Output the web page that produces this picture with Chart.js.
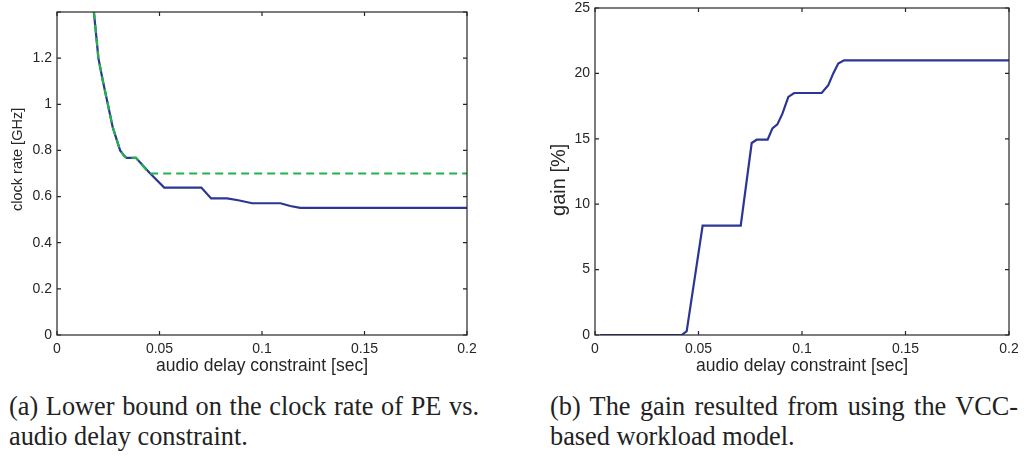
<!DOCTYPE html>
<html>
<head>
<meta charset="utf-8">
<script src="https://cdn.jsdelivr.net/npm/chart.js@4.4.1/dist/chart.umd.min.js"></script>
<style>
    body { margin: 0; width: 1026px; height: 457px; background: #fff; position: relative; overflow: hidden; }
    canvas { position: absolute; top: 0; }
    #chart-a { left: 0; }
    #chart-b { left: 520px; }
    .caption { position: absolute; top: 392px; font-family: "Liberation Serif", "Times New Roman", serif; font-size: 26.3px; line-height: 30px; color: #222; }
    .caption .first { text-align: justify; text-align-last: justify; }
    #cap-a { left: 9px; width: 470px; }
    #cap-b { left: 550px; width: 468px; }
</style>
</head>
<body>
<canvas id="chart-a" width="490" height="385"></canvas>
<canvas id="chart-b" width="506" height="385"></canvas>
<div class="caption" id="cap-a">
    <div class="first">(a) Lower bound on the clock rate of PE vs.</div>
    <div>audio delay constraint.</div>
</div>
<div class="caption" id="cap-b">
    <div class="first">(b) The gain resulted from using the VCC-</div>
    <div>based workload model.</div>
</div>
<script>
// (a) 下限クロック周波数 [GHz]
const clockX = [0.018, 0.0191, 0.0202, 0.0224, 0.0248, 0.0272, 0.0308, 0.0329, 0.034, 0.0385, 0.045, 0.0523, 0.0704, 0.0752, 0.083, 0.0884, 0.0952, 0.109, 0.1138, 0.1186, 0.2];
const clockY = [1.4, 1.3, 1.2, 1.1, 1.0, 0.9, 0.8, 0.775, 0.768, 0.768, 0.704, 0.639, 0.639, 0.592, 0.592, 0.584, 0.571, 0.571, 0.559, 0.551, 0.551];
// (a) 破線（緑）
const boundX = [0.018, 0.0191, 0.0202, 0.0224, 0.0248, 0.0272, 0.0308, 0.0329, 0.034, 0.0385, 0.045, 0.2];
const boundY = [1.4, 1.3, 1.2, 1.1, 1.0, 0.9, 0.8, 0.775, 0.768, 0.768, 0.70, 0.70];
// (b) gain [%]
const gainX = [0.0025, 0.0419, 0.0443, 0.052, 0.0704, 0.0757, 0.0781, 0.0834, 0.0857, 0.0881, 0.0905, 0.0934, 0.0962, 0.1095, 0.1127, 0.1151, 0.1175, 0.1203, 0.2];
const gainY = [0, 0, 0.3, 8.36, 8.36, 14.68, 14.93, 14.93, 15.8, 16.1, 16.9, 18.2, 18.5, 18.5, 19.1, 20.0, 20.76, 21.0, 21.0];

const BLUE = '#2b3694';
const GREEN = '#22b14c';
const INK = '#262626';

function toPoints(xs, ys) {
    return xs.map((x, i) => ({ x: x, y: ys[i] }));
}

// 目盛りラベル分の自動余白を消して、layout.paddingで位置を決める
function noAutoPadding(s) {
    s.paddingTop = 0;
    s.paddingBottom = 0;
    s.paddingLeft = 0;
    s.paddingRight = 0;
}

// MATLAB風の枠と内向きの目盛り
const framePlugin = {
    id: 'frame',
    afterDraw(chart) {
        const { ctx, chartArea: a, scales: { x, y } } = chart;
        ctx.save();
        ctx.strokeStyle = INK;
        ctx.lineWidth = 1.2;
        ctx.strokeRect(a.left, a.top, a.right - a.left, a.bottom - a.top);
        ctx.beginPath();
        x.ticks.forEach(t => {
            const px = x.getPixelForValue(t.value);
            ctx.moveTo(px, a.bottom); ctx.lineTo(px, a.bottom - 4);
            ctx.moveTo(px, a.top); ctx.lineTo(px, a.top + 4);
        });
        y.ticks.forEach(t => {
            const py = y.getPixelForValue(t.value);
            ctx.moveTo(a.left, py); ctx.lineTo(a.left + 4, py);
            ctx.moveTo(a.right, py); ctx.lineTo(a.right - 4, py);
        });
        ctx.stroke();
        ctx.restore();
    }
};

function makeOptions(cfg) {
    return {
        responsive: false,
        animation: false,
        layout: { padding: cfg.padding },
        plugins: { legend: { display: false }, tooltip: { enabled: false } },
        scales: {
            x: {
                type: 'linear',
                min: 0,
                max: 0.2,
                grid: { display: false, drawTicks: false },
                border: { display: false },
                ticks: {
                    stepSize: 0.05,
                    padding: 7,
                    color: INK,
                    font: { family: 'Liberation Sans', size: 14, lineHeight: 1 },
                    callback: v => String(Math.round(v * 100) / 100)
                },
                title: { display: true, text: 'audio delay constraint [sec]', color: INK, padding: { top: 0, bottom: 8 }, font: { family: 'Liberation Sans', size: 17.5 } },
                afterFit: s => { s.height = cfg.xHeight; noAutoPadding(s); }
            },
            y: {
                type: 'linear',
                min: cfg.yMin,
                max: cfg.yMax,
                grid: { display: false, drawTicks: false },
                border: { display: false },
                ticks: {
                    stepSize: cfg.yStep,
                    padding: 5,
                    color: INK,
                    font: { family: 'Liberation Sans', size: 14, lineHeight: 1 },
                    callback: cfg.yLabel
                },
                title: { display: true, text: cfg.yTitle, color: INK, padding: { top: cfg.yTitlePad, bottom: 0 }, font: { family: 'Liberation Sans', size: cfg.yTitleSize } },
                afterFit: s => { s.width = cfg.yWidth; noAutoPadding(s); }
            }
        }
    };
}

// 左: クロック周波数の下限
new Chart(document.getElementById('chart-a'), {
    type: 'line',
    data: {
        datasets: [{
            data: toPoints(boundX, boundY),
            borderColor: GREEN,
            borderWidth: 2.2,
            borderDash: [8, 5],
            pointRadius: 0,
            fill: false
        }, {
            data: toPoints(clockX, clockY),
            borderColor: BLUE,
            borderWidth: 2.2,
            pointRadius: 0,
            fill: false
        }]
    },
    options: makeOptions({
        padding: { left: 0, top: 12, right: 23, bottom: 0 },
        xHeight: 50,
        yWidth: 57,
        yMin: 0,
        yMax: 1.4,
        yStep: 0.2,
        yLabel: v => (v > 1.39 ? '' : String(Math.round(v * 10) / 10)),
        yTitle: '       clock rate [GHz]',
        yTitleSize: 14.5,
        yTitlePad: 9
    }),
    plugins: [framePlugin]
});

// 右: VCCモデルによるゲイン
new Chart(document.getElementById('chart-b'), {
    type: 'line',
    data: {
        datasets: [{
            data: toPoints(gainX, gainY),
            borderColor: BLUE,
            borderWidth: 2.2,
            pointRadius: 0,
            fill: false
        }]
    },
    options: makeOptions({
        padding: { left: 0, top: 8, right: 17, bottom: 0 },
        xHeight: 50,
        yWidth: 75,
        yMin: 0,
        yMax: 25,
        yStep: 5,
        yLabel: v => String(v),
        yTitle: 'gain [%]   ',
        yTitleSize: 20,
        yTitlePad: 27
    }),
    plugins: [framePlugin]
});
</script>
</body>
</html>
